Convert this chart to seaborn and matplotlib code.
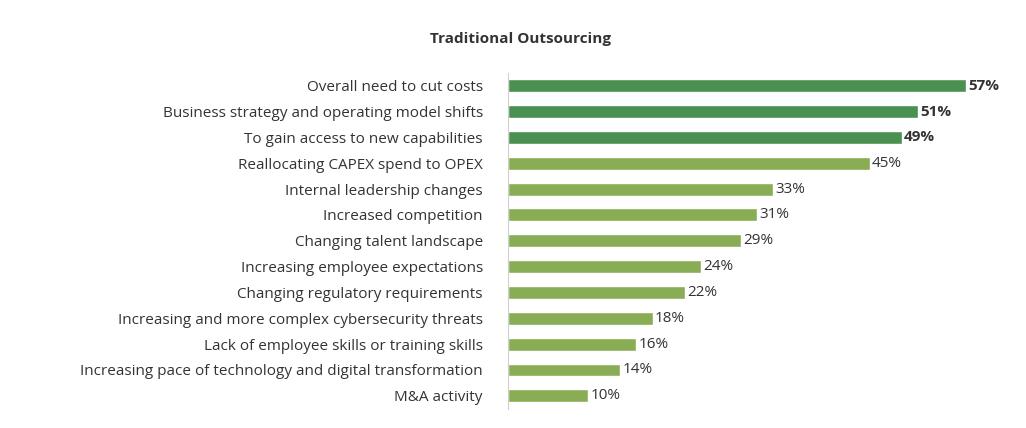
"""Horizontal bar chart of outsourcing drivers."""

import numpy as np
import pandas as pd

import matplotlib.pyplot as plt
import seaborn as sns


DARK_GREEN = "#3f9b48"
LIGHT_GREEN = "#8cbc45"


def build_frame() -> pd.DataFrame:
    return pd.DataFrame(
        {
            "driver": [
                "Overall need to cut costs",
                "Business strategy and operating model shifts",
                "To gain access to new capabilities",
                "Reallocating CAPEX spend to OPEX",
                "Internal leadership changes",
                "Increased competition",
                "Changing talent landscape",
                "Increasing employee expectations",
                "Changing regulatory requirements",
                "Increasing and more complex cybersecurity threats",
                "Lack of employee skills or training skills",
                "Increasing pace of technology and digital transformation",
                "M&A activity",
            ],
            "pct": [57, 51, 49, 45, 33, 31, 29, 24, 22, 18, 16, 14, 10],
        }
    )


def plot_drivers(df: pd.DataFrame, path: str) -> None:
    sns.set_style("white")
    plt.rcParams["font.family"] = ["Open Sans", "DejaVu Sans"]

    fig, ax = plt.subplots(figsize=(10.26, 4.28), dpi=100)
    fig.subplots_adjust(left=0.495, right=0.965, top=0.83, bottom=0.045)

    colors = [DARK_GREEN if i < 3 else LIGHT_GREEN for i in range(len(df))]
    sns.barplot(data=df, x="pct", y="driver", hue="driver", palette=colors,
                legend=False, width=0.5, ax=ax)

    for i, v in enumerate(df["pct"]):
        ax.text(v + 0.3, i, f"{v}%", va="center", ha="left", fontsize=11,
                color="#333333", fontweight="bold" if i < 3 else "normal")

    ax.set_xlim(0, 60)
    ax.set_xticks([])
    ax.set_xlabel("")
    ax.set_ylabel("")
    ax.tick_params(axis="y", length=0, labelsize=11, labelcolor="#333333", pad=18)
    for side in ["top", "right", "bottom"]:
        ax.spines[side].set_visible(False)
    ax.spines["left"].set_color("#d0d0d0")
    fig.suptitle("Traditional Outsourcing", x=0.507, y=0.925, fontsize=11,
                 fontweight="bold", color="#333333")

    fig.savefig(path, dpi=100)
    plt.close(fig)


def main() -> None:
    plot_drivers(build_frame(), "out.png")


if __name__ == "__main__":
    main()
